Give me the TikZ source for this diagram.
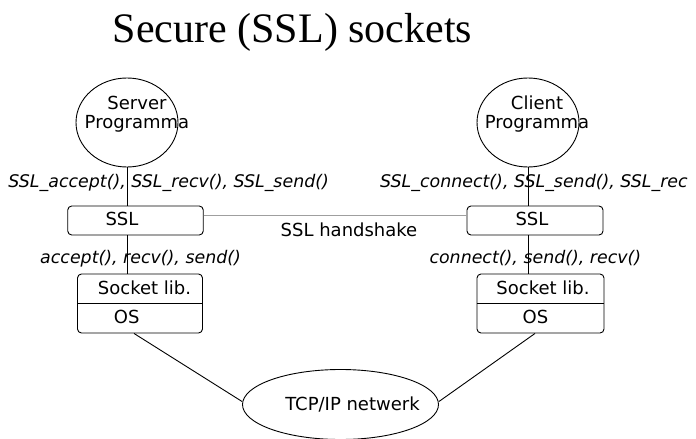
\documentclass[tikz,border=0pt]{standalone}
\usepackage{fontspec}
\setmainfont{Liberation Serif}
\newfontfamily\labelfont{DejaVu Sans}
\usepackage{tikz}
\usetikzlibrary{shapes.geometric}

\begin{document}
\begin{tikzpicture}[
	x=1pt, y=-1pt,
	every node/.style={font=\labelfont\fontsize{18}{18.5}\selectfont, inner sep=0pt},
	prog/.style={
		draw, ellipse, line width=0.9pt,
		minimum width=102pt, minimum height=89pt
	},
	layer/.style={
		draw, rectangle, rounded corners=4pt,
		line width=0.9pt, minimum height=#1
	},
	txt/.style={anchor=base},
	call/.style={
		anchor=base west,
		font=\labelfont\itshape\fontsize{17.4}{18}\selectfont
	},
	link/.style={line width=0.9pt},
	handshake/.style={line width=0.8pt, draw=gray!75}
	]
	\useasboundingbox (0,0) rectangle (696,439);
	
	% Title
	\node[anchor=base, font=\fontsize{42}{48}\selectfont] (title) at (292.5,42.3) {Secure (SSL) sockets};
	
	% Programs
	\node[prog] (srv) at (127,122.5) {};
	\node[align=center] (srvname) at (137,114) {Server\\Programma};
	\node[prog] (cln) at (528,122.5) {};
	\node[align=center] (clnname) at (537,114) {Client\\Programma};
	
	% SSL layer
	\node[layer=29pt, minimum width=135.5pt] (sslS) at (135.5,220.5) {};
	\node[txt] (sslStxt) at (122,225.5) {SSL};
	\node[layer=29pt, minimum width=136pt] (sslC) at (535,220.5) {};
	\node[txt] (sslCtxt) at (532,225.5) {SSL};
	
	% Socket library on top of the OS
	\node[layer=59pt, minimum width=125pt] (sockS) at (140,303.5) {};
	\node[txt] (libS) at (144.5,294) {Socket lib.};
	\node[txt] (osS)  at (126.7,323.3) {OS};
	\node[layer=59pt, minimum width=127pt] (sockC) at (540.5,303.5) {};
	\node[txt] (libC) at (543,294) {Socket lib.};
	\node[txt] (osC)  at (535.5,323.3) {OS};
	
	% Network
	\node[prog, minimum width=196pt, minimum height=70pt] (net) at (340.5,404.5) {};
	\node[txt] (nettxt) at (352.5,410) {TCP/IP netwerk};
	
	% Calls between the layers
	\node[call] (sslcallS)  at (8.3,187)    {SSL\_accept(), SSL\_recv(), SSL\_send()};
	\node[call] (sslcallC)  at (380,187)    {SSL\_connect(), SSL\_send(), SSL\_rec};
	\node[call] (sockcallS) at (40,263.5)   {accept(), recv(), send()};
	\node[call] (sockcallC) at (429.3,263.5) {connect(), send(), recv()};
	\node[txt] (hstxt) at (349,236) {SSL handshake};
	
	% Lines
	\draw[link] (srv.south) -- (srv.south |- sslS.north);
	\draw[link] (srv.south |- sslS.south) -- (srv.south |- sockS.north);
	\draw[link] (cln.south) -- (cln.south |- sslC.north);
	\draw[link] (cln.south |- sslC.south) -- (cln.south |- sockC.north);
	\draw[link] (sockS.west) -- (sockS.east);
	\draw[link] (sockC.west) -- (sockC.east);
	\draw[handshake] ([yshift=5pt]sslS.east) -- ([yshift=5pt]sslC.west);
	\draw[link] ([xshift=-6pt]sockS.south) -- ([yshift=3pt]net.west);
	\draw[link] ([xshift=-5.5pt]sockC.south) -- ([yshift=3pt]net.east);
	
\end{tikzpicture}
\end{document}
